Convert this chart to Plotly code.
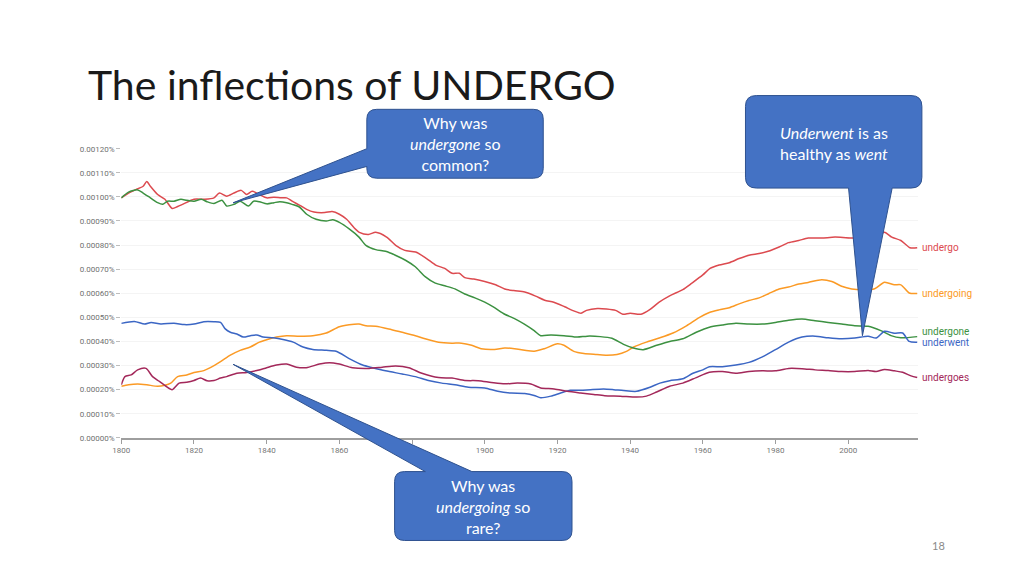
import plotly.graph_objects as go

W, H = 1024, 576

# ---------------- data (values in units of 0.00001 %) ----------------
undergo_years = [1800, 1802, 1804, 1806, 1807, 1808, 1810, 1812, 1814, 1815.5, 1817, 1820, 1823, 1825.5, 1827,
                 1829, 1831, 1833, 1834.5, 1836, 1838, 1840, 1842, 1844, 1845.5, 1847, 1849, 1851, 1853, 1856,
                 1858, 1860, 1862, 1864, 1865.5, 1868, 1870, 1873, 1875.5, 1878, 1881, 1884, 1886.5, 1889, 1891,
                 1893, 1894.5, 1897, 1900, 1903, 1905.5, 1908, 1911, 1914, 1916.5, 1919, 1922, 1924.5, 1926.5,
                 1928, 1931, 1933.5, 1936, 1938, 1940, 1943, 1945.5, 1948, 1951, 1954.5, 1957, 1960, 1962,
                 1964.5, 1967.3, 1970, 1972.7, 1975.5, 1978, 1981, 1983.6, 1986.4, 1989, 1992.7, 1996.4, 2001,
                 2005, 2008, 2010, 2012, 2014.5, 2017, 2019]
undergo_vals = [99.6, 101.6, 103, 104.4, 106.4, 104.4, 101, 99, 95.2, 96, 97, 99, 99, 99.6, 101.6,
                100.3, 101.6, 102.7, 101, 102.3, 101, 99.6, 99.9, 99.6, 99.6, 98.2, 96.6, 94.8, 93.7, 93.5,
                93.9, 92.8, 90.7, 87.3, 85.3, 84.4, 85.3, 83.3, 79.9, 77.8, 77.1, 74.4, 71.7, 70.3, 68.3,
                68.3, 66.5, 65.9, 64.9, 63.5, 61.8, 61.1, 60.5, 58.8, 57.1, 56.3, 54.4, 52.7, 51.7,
                52.9, 53.7, 53.5, 52.9, 51.3, 51.7, 51.3, 53.3, 56.3, 59, 61.5, 64.2, 67.6, 70.3,
                71.7, 72.7, 74.4, 75.8, 76.5, 77.4, 79.2, 81, 81.9, 82.9, 82.9, 83.3, 82.9,
                83.5, 84.0, 85.3, 83.3, 81.9, 78.9, 78.9]

undergoing_years = [1800, 1802, 1804.5, 1807, 1810, 1812, 1813.6, 1815.5, 1818, 1820, 1822.7, 1824.5, 1827.3,
                    1830, 1832.7, 1835.5, 1838, 1840, 1842.7, 1845.5, 1849, 1852.7, 1856.4, 1860, 1862.7,
                    1865.4, 1867.3, 1870, 1873.6, 1877.3, 1880.9, 1883.6, 1887.3, 1891, 1893.6, 1896.4, 1899,
                    1902.7, 1905.5, 1908.2, 1911, 1913.6, 1916.4, 1920, 1921.8, 1924.5, 1927.3, 1930.9,
                    1933.6, 1936.4, 1939, 1941, 1944.5, 1948, 1951.8, 1955.5, 1959, 1961.8, 1964.5, 1967.3,
                    1970, 1972.7, 1975.5, 1978.2, 1981, 1983.6, 1986.4, 1989, 1992.7, 1995.5, 1998.2, 2001,
                    2004, 2007.3, 2010, 2012.7, 2014.5, 2016.8, 2019]
undergoing_vals = [21.4, 22, 22.3, 22, 21.4, 21.8, 22.7, 25.4, 26.1, 27.1, 27.9, 29.1, 31.6,
                   34.3, 36.3, 37.7, 39.7, 40.7, 41.8, 42.4, 42.2, 42.4, 43.5, 46.1, 46.9,
                   47.2, 46.5, 46.3, 45.2, 43.8, 42.4, 41.1, 39.7, 39.3, 39.3, 38.4, 37,
                   36.7, 37.3, 37, 36.3, 35.9, 37, 39, 38.4, 35.9, 35, 34.6,
                   34.3, 34.6, 35.9, 37.7, 39.7, 41.4, 43.5, 46.5, 49.9, 52, 53.1, 54,
                   55.6, 57, 58.1, 59.9, 61.8, 62.6, 63.8, 64.5, 65.6, 64.9, 62.9, 61.8,
                   61.5, 61.9, 64.6, 63.5, 63.5, 60.1, 59.9]

undergone_years = [1800, 1802, 1804.5, 1806, 1808, 1810, 1811.4, 1812.7, 1814.5, 1816.4, 1818, 1820, 1822,
                   1823.6, 1825.5, 1827.7, 1829, 1831, 1832.7, 1835, 1836.4, 1838, 1840, 1842, 1843.6,
                   1845.5, 1847, 1849, 1851, 1853.6, 1856.4, 1858.2, 1860, 1862.7, 1865.4, 1867.3, 1870,
                   1872.7, 1875.4, 1878.2, 1880.9, 1883.6, 1886.4, 1889, 1891.8, 1894.5, 1897.3, 1900,
                   1902.7, 1905.5, 1908.2, 1910.9, 1913.6, 1915.4, 1918.2, 1921.8, 1925.5, 1928.2, 1931.8,
                   1935, 1938.2, 1940.9, 1943.6, 1947.3, 1950.9, 1954.5, 1958.2, 1961.8, 1965.4, 1969.1,
                   1972.7, 1976.4, 1980, 1983.6, 1987.3, 1990.9, 1994.5, 1998.2, 2001.8, 2005.5, 2009,
                   2011.8, 2014.5, 2019]
undergone_vals = [99.6, 102, 102.9, 101.6, 99.6, 97.6, 96.9, 98.2, 98.2, 99, 98.6, 98.2, 99,
                  98, 97.3, 98.6, 96.2, 96.9, 98.2, 96.2, 98.2, 98, 97.1, 97.6, 98,
                  97.6, 96.9, 95.8, 92.8, 90.7, 90, 90.5, 89.4, 86.7, 83.3, 79.9, 78.1,
                  77.4, 75.8, 73.7, 71, 66.9, 64.2, 63.1, 61.8, 59.7, 58.1, 56.3,
                  54, 51.3, 49.5, 47.2, 44.5, 42.4, 42.7, 42.4, 41.8, 42.2, 42,
                  41.3, 38.8, 37.3, 36.6, 38.4, 40, 41.1, 43.8, 45.9, 46.8, 47.5,
                  47.2, 47.2, 47.9, 48.8, 49.3, 48.6, 47.9, 47.2, 46.5, 46.3, 44.5,
                  42.4, 41.5, 42]

underwent_years = [1800, 1803.6, 1806.4, 1808.2, 1810.9, 1814.5, 1817.3, 1820, 1822.7, 1825.5, 1827.3, 1828.6,
                   1830, 1831.8, 1833.6, 1835.5, 1837.3, 1839, 1841.8, 1844.5, 1847.3, 1850, 1852.7, 1856.4,
                   1859.1, 1862.7, 1866.4, 1869.1, 1872.7, 1877.3, 1880.9, 1884.5, 1888.2, 1891.8, 1895.5,
                   1900, 1903.6, 1907.3, 1911, 1913.6, 1915.4, 1918.2, 1920.9, 1923.6, 1926.4, 1929.1,
                   1932.7, 1935.5, 1938.2, 1941.8, 1945.5, 1948.2, 1950.9, 1954.5, 1957.3, 1960, 1961.8,
                   1965.4, 1969.1, 1972.7, 1976.4, 1980, 1983.6, 1987.3, 1990.9, 1994.5, 1998.2, 2001.8,
                   2005.5, 2007.7, 2010, 2012.7, 2015, 2016.8, 2019]
underwent_vals = [47.5, 48.3, 47.2, 47.9, 47.2, 47.6, 47, 47.2, 48.2, 48.2, 47.9, 45.2,
                  43.8, 43.1, 41.8, 42.4, 42.7, 41.8, 41.5, 40.8, 39.7, 37.7, 36.7, 36.3,
                  35.9, 32.9, 30.2, 29.1, 27.8, 26.5, 25.4, 23.8, 22.7, 22, 21,
                  20.7, 19.3, 18.6, 18.4, 17.6, 16.6, 17.3, 18.6, 19.7, 19.7, 20,
                  20.3, 20, 19.6, 19.3, 21, 22.7, 23.7, 24.5, 26.8, 28.2, 29.5,
                  29.5, 30.2, 31.3, 33.6, 36.6, 39.7, 41.8, 42.2, 41.5, 41.1, 41.4,
                  42.2, 41.4, 44.2, 43.4, 43.5, 40, 39.7]

undergoes_years = [1800, 1801, 1802.7, 1804.5, 1806.8, 1808.6, 1810.5, 1812.3, 1814, 1815.9, 1818, 1820,
                   1821.8, 1823.6, 1825.5, 1827.3, 1829, 1831.8, 1834.5, 1837.3, 1840, 1842.7, 1845.5,
                   1848.2, 1850.9, 1854.5, 1857.3, 1860, 1863.6, 1868.2, 1871.8, 1875.5, 1879.1, 1882.7,
                   1887.3, 1891, 1894.5, 1898.2, 1901.8, 1905.5, 1909, 1912.7, 1915.4, 1919.1, 1922.7,
                   1926.4, 1930, 1933, 1937.3, 1941.8, 1944.5, 1947.3, 1950.9, 1954.5, 1958.2, 1961.8,
                   1965.4, 1969.1, 1972.7, 1976.4, 1980, 1983.6, 1987.3, 1990.9, 1994.5, 1998.2, 2001.8,
                   2005.5, 2007.7, 2010, 2012.7, 2015, 2017.3, 2019]
undergoes_vals = [22, 25.4, 26.1, 28.2, 28.8, 25.4, 23.4, 21.4, 20, 22.7, 23.1, 23.8,
                  24.8, 23.7, 23.8, 24.8, 25.4, 26.8, 27.1, 27.9, 29.1, 30.2, 30.6,
                  29.3, 29.1, 30.6, 31.2, 30.6, 29.1, 28.8, 29.3, 29.8, 29.1, 26.8,
                  25, 24.8, 23.8, 23.7, 23, 22.4, 22.7, 22.3, 20.7, 20.3, 19.3,
                  18.6, 18, 17.5, 17.3, 16.9, 17.3, 19, 21.4, 22.7, 25, 27.2,
                  27.5, 26.8, 27.5, 27.8, 27.8, 28.8, 28.7, 28.2, 27.9, 27.5, 27.5,
                  27.9, 27.5, 28.4, 27.8, 27.2, 25.7, 25]

series_names = ["undergo", "undergoing", "undergone", "underwent", "undergoes"]
series_colors = ["#dc4a4f", "#fb9a25", "#3c9141", "#3b66c4", "#a3285a"]
label_shift = [0, 0, 5, 0, 0]

y_tick_vals = [0, 10, 20, 30, 40, 50, 60, 70, 80, 90, 100, 110, 120]
x_tick_vals = [1800, 1820, 1840, 1860, 1880, 1900, 1920, 1940, 1960, 1980, 2000]

SCALE = 1e-5  # stored values are in units of 0.00001 %

all_years = [undergo_years, undergoing_years, undergone_years, underwent_years, undergoes_years]
all_vals = [undergo_vals, undergoing_vals, undergone_vals, underwent_vals, undergoes_vals]

# ---------------- figure ----------------
fig = go.Figure()
for name, col, yrs, vals in zip(series_names, series_colors, all_years, all_vals):
    fig.add_trace(go.Scatter(
        x=yrs, y=[v * SCALE for v in vals], mode="lines", name=name,
        line=dict(color=col, width=1.5, shape="spline", smoothing=0.7),
        hoverinfo="skip"))

def px(x):
    return x / W

def py(y):
    return 1 - y / H

def path_from(points):
    out = []
    for cmd in points:
        c = cmd[0]
        nums = cmd[1:]
        coords = []
        for i in range(0, len(nums), 2):
            coords.append(f"{px(nums[i]):.5f},{py(nums[i + 1]):.5f}")
        out.append(c + " " + " ".join(coords))
    return " ".join(out) + " Z"

def callout(x0, y0, x1, y1, r, wedge_side, base_a, base_b, tip):
    pts = [("M", x0 + r, y0)]
    if wedge_side == "top":
        pts += [("L", base_a, y0), ("L", tip[0], tip[1]), ("L", base_b, y0)]
    pts += [("L", x1 - r, y0), ("Q", x1, y0, x1, y0 + r), ("L", x1, y1 - r), ("Q", x1, y1, x1 - r, y1)]
    if wedge_side == "bottom":
        pts += [("L", base_b, y1), ("L", tip[0], tip[1]), ("L", base_a, y1)]
    pts += [("L", x0 + r, y1), ("Q", x0, y1, x0, y1 - r)]
    if wedge_side == "left":
        pts += [("L", x0, base_b), ("L", tip[0], tip[1]), ("L", x0, base_a)]
    pts += [("L", x0, y0 + r), ("Q", x0, y0, x0 + r, y0)]
    return path_from(pts)

fill = "#4472c4"
edge = "#2f528f"
shapes = [
    dict(type="path", xref="paper", yref="paper",
         path=callout(361, 107, 539, 177, 10, "left", 147, 165, (226, 202)),
         fillcolor=fill, line=dict(color=edge, width=1), layer="above"),
    dict(type="path", xref="paper", yref="paper",
         path=callout(743, 93, 921, 187, 11, "bottom", 847, 891, (861, 337)),
         fillcolor=fill, line=dict(color=edge, width=1), layer="above"),
    dict(type="path", xref="paper", yref="paper",
         path=callout(389, 475, 568, 545, 10, "top", 420, 467, (226, 366)),
         fillcolor=fill, line=dict(color=edge, width=1), layer="above"),
]

txt_font = dict(family="Lato, 'Open Sans', sans-serif", size=16, color="white")
annotations = [
    dict(text="The inflections of UNDERGO", xref="paper", yref="paper", x=px(78), y=py(82),
         xanchor="left", yanchor="middle", showarrow=False,
         font=dict(family="Lato, 'Open Sans', sans-serif", size=41, color="#1a1a1a")),
    dict(text="Why was<br><i>undergone</i> so<br>common?", xref="paper", yref="paper",
         x=px(450), y=py(142), xanchor="center", yanchor="middle", showarrow=False, font=txt_font),
    dict(text="<i>Underwent</i> is as<br>healthy as <i>went</i>", xref="paper", yref="paper",
         x=px(832), y=py(141), xanchor="center", yanchor="middle", showarrow=False, font=txt_font),
    dict(text="Why was<br><i>undergoing</i> so<br>rare?", xref="paper", yref="paper",
         x=px(478), y=py(510), xanchor="center", yanchor="middle", showarrow=False, font=txt_font),
    dict(text="18", xref="paper", yref="paper", x=px(938), y=py(550), xanchor="center",
         yanchor="middle", showarrow=False,
         font=dict(family="Lato, sans-serif", size=11, color="#8a8a8a")),
]
for name, col, yrs, vals, sh in zip(series_names, series_colors, all_years, all_vals, label_shift):
    annotations.append(dict(text=name, x=yrs[-1], y=vals[-1] * SCALE, xref="x", yref="y",
                            xanchor="left", yanchor="middle", xshift=3, yshift=sh, showarrow=False,
                            font=dict(family="Roboto, sans-serif", size=10, color=col)))

fig.update_layout(
    width=W, height=H, margin=dict(l=0, r=0, t=0, b=0),
    paper_bgcolor="white", plot_bgcolor="white", showlegend=False,
    shapes=shapes, annotations=annotations,
    xaxis=dict(domain=[px(113.3), px(917)], range=[1800, 2019.2],
               tickvals=x_tick_vals, ticks="outside", ticklen=4, tickcolor="#9e9e9e",
               showgrid=False, zeroline=False, showline=True, linecolor="#9e9e9e", linewidth=1.5,
               tickfont=dict(family="Roboto, sans-serif", size=8, color="#757575")),
    yaxis=dict(domain=[py(440.7), py(147)], range=[0, 120 * SCALE],
               tickvals=[v * SCALE for v in y_tick_vals],
               ticktext=[f"{v * SCALE:.5f}%" for v in y_tick_vals],
               ticks="outside", ticklen=4, tickcolor="#bdbdbd",
               showgrid=True, gridcolor="#f4f4f4", zeroline=False, showline=False,
               tickfont=dict(family="Roboto, sans-serif", size=8, color="#6f6f6f")),
)

css_js = ("var s=document.createElement('style');"
          "s.innerHTML='html,body{margin:0!important;padding:0!important;overflow:hidden;}';"
          "document.head.appendChild(s);document.body.style.margin='0px';")
fig.write_html("out.html", config={"displayModeBar": False}, post_script=css_js)
